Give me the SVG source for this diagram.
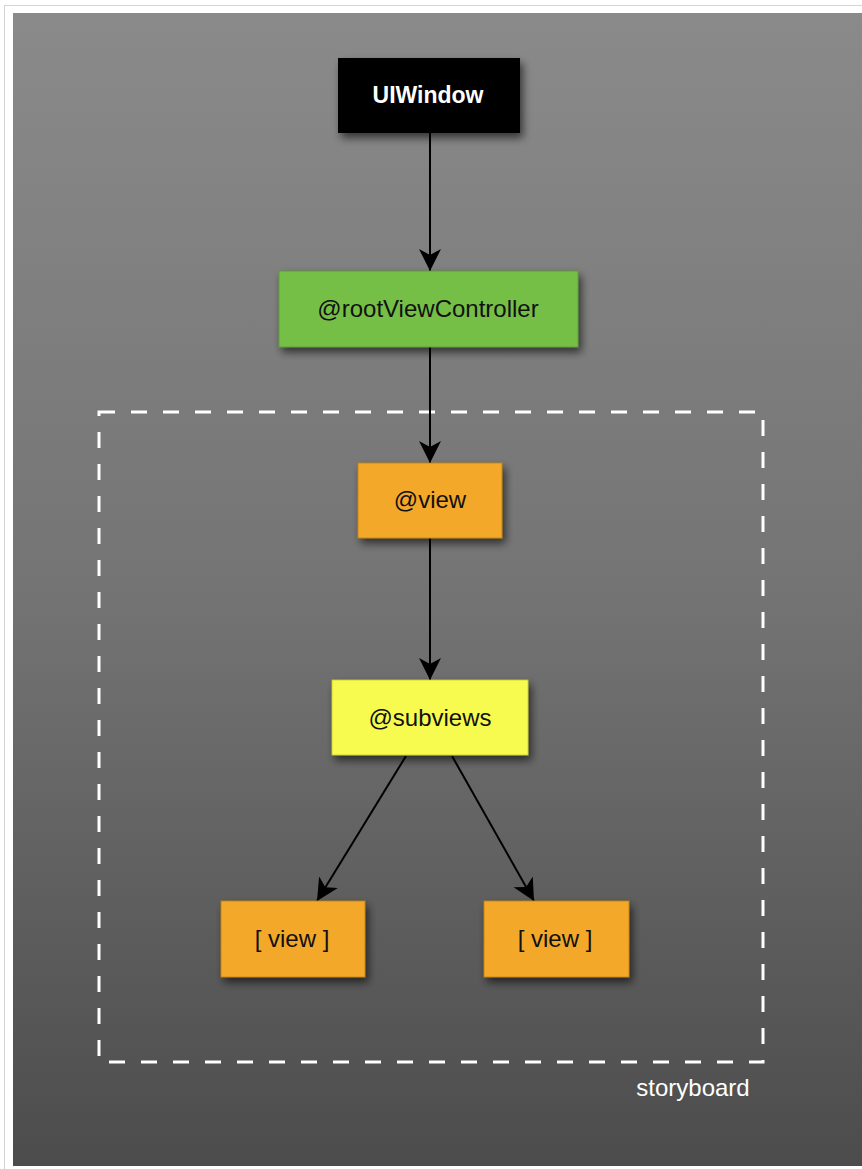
<svg xmlns="http://www.w3.org/2000/svg" width="862" height="1169" viewBox="0 0 862 1169">
<defs>
<linearGradient id="bg" x1="0" y1="0" x2="0" y2="1">
<stop offset="0" stop-color="#8a8a8a"/>
<stop offset="0.5" stop-color="#747474"/>
<stop offset="1" stop-color="#4c4c4c"/>
</linearGradient>
<filter id="sh" x="-20%" y="-20%" width="150%" height="160%">
<feGaussianBlur in="SourceAlpha" stdDeviation="4"/>
<feOffset dx="3" dy="5" result="b"/>
<feComponentTransfer><feFuncA type="linear" slope="0.6"/></feComponentTransfer>
<feMerge><feMergeNode/><feMergeNode in="SourceGraphic"/></feMerge>
</filter>
<marker id="arr" viewBox="0 0 24 24" refX="22" refY="12" markerWidth="24" markerHeight="24" markerUnits="userSpaceOnUse" orient="auto">
<path d="M0,1 L22,12 L0,23 L6,12 Z" fill="#000"/>
</marker>
</defs>
<style>
.edge{stroke:#000;stroke-width:2;fill:none;marker-end:url(#arr)}
.lbl{font-family:"Liberation Sans",Arial,sans-serif;font-size:24px;text-anchor:middle;fill:#111}
.box{filter:url(#sh);stroke:#c08010;stroke-width:0.8}
</style>
<rect x="0" y="0" width="862" height="1169" fill="#fff"/>
<rect x="4.5" y="5.5" width="870" height="1175" fill="none" stroke="#d4d4d4" stroke-width="1"/>
<rect x="13" y="13" width="849" height="1153" fill="url(#bg)"/>
<rect x="99" y="412" width="664" height="650" fill="none" stroke="#fff" stroke-width="3" stroke-dasharray="16,16"/>
<text x="693" y="1096" font-family="'Liberation Sans',Arial,sans-serif" font-size="24" fill="#fff" text-anchor="middle">storyboard</text>
<g id="connectors">
<line class="edge" x1="430" y1="133" x2="430" y2="271"/>
<line class="edge" x1="430" y1="347" x2="430" y2="463"/>
<line class="edge" x1="430" y1="538" x2="430" y2="680"/>
<line class="edge" x1="406" y1="756" x2="317" y2="901"/>
<line class="edge" x1="452" y1="756" x2="534" y2="901"/>
</g>
<g id="uiwindow">
<rect x="338" y="58" width="182" height="75" fill="#000" filter="url(#sh)"/>
<text x="428" y="103" font-family="'Liberation Sans',Arial,sans-serif" font-size="23" font-weight="bold" fill="#fff" text-anchor="middle">UIWindow</text>
</g>
<g id="rootViewController">
<rect x="279" y="271" width="299" height="76" fill="#76bf46" filter="url(#sh)" stroke="#5a9a30" stroke-width="0.8"/>
<text class="lbl" x="428" y="317">@rootViewController</text>
</g>
<g id="view">
<rect class="box" x="358" y="463" width="144" height="75" fill="#f4a82a"/>
<text class="lbl" x="430" y="508">@view</text>
</g>
<g id="subviews">
<rect x="332" y="680" width="196" height="75" fill="#f8fb50" filter="url(#sh)" stroke="#c8c830" stroke-width="0.8"/>
<text class="lbl" x="430" y="726">@subviews</text>
</g>
<g id="view-left">
<rect class="box" x="221" y="901" width="144" height="76" fill="#f4a82a"/>
<text class="lbl" x="292" y="947">[ view ]</text>
</g>
<g id="view-right">
<rect class="box" x="484" y="901" width="145" height="76" fill="#f4a82a"/>
<text class="lbl" x="555" y="947">[ view ]</text>
</g>
</svg>
